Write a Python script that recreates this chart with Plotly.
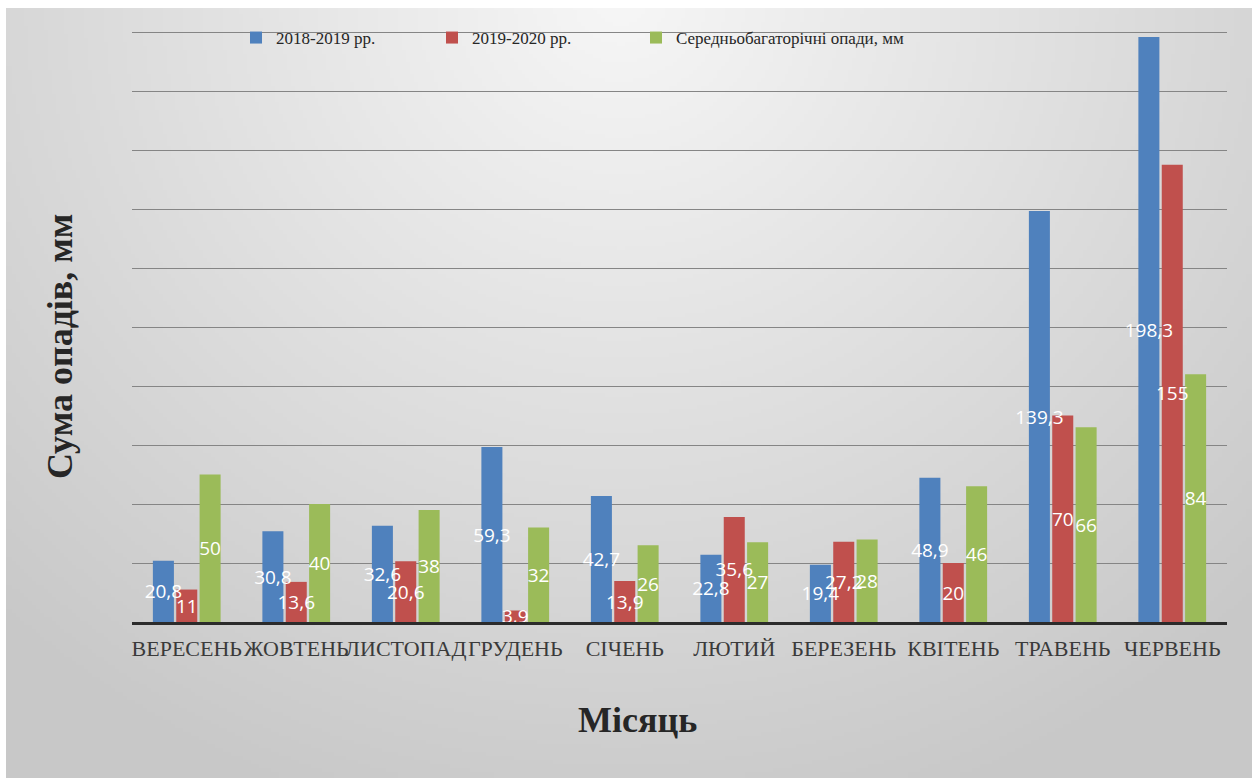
import base64, struct, zlib, math
import plotly.graph_objects as go

months = ["ВЕРЕСЕНЬ", "ЖОВТЕНЬ", "ЛИСТОПАД", "ГРУДЕНЬ", "СІЧЕНЬ",
          "ЛЮТИЙ", "БЕРЕЗЕНЬ", "КВІТЕНЬ", "ТРАВЕНЬ", "ЧЕРВЕНЬ"]
s2018 = [20.8, 30.8, 32.6, 59.3, 42.7, 22.8, 19.4, 48.9, 139.3, 198.3]
s2019 = [11, 13.6, 20.6, 3.9, 13.9, 35.6, 27.2, 20, 70, 155]
s_avg = [50, 40, 38, 32, 26, 27, 28, 46, 66, 84]
names = ["2018-2019 рр.", "2019-2020 рр.", "Середньобагаторічні опади, мм"]
colors = ["#4f81bd", "#c0504d", "#9bbb59"]

W, H = 1252, 778
Y0, Y200 = 622, 32          # pixel rows of value 0 and value 200
PPU = (Y0 - Y200) / 200.0   # pixels per mm
L, R, T = 132, 25, 23
B = H - Y0
PW, PH = W - L - R, H - T - B
YMAX = (Y0 - T) / PPU


def pxx(px):
    return (px - L) / PW


def pxy(py):
    return (Y0 - py) / PH


def fmt(v):
    return ("%g" % v).replace(".", ",")


def make_bg(w=313, h=193):
    rows = []
    for j in range(h):
        py = 8 + (j + 0.5) / h * (H - 8)
        row = bytearray([0])
        for i in range(w):
            px = 6 + (i + 0.5) / w * (W - 6)
            d = math.sqrt(((px - 620) / 900.0) ** 2 + (py / 850.0) ** 2)
            c = int(round(246 - 46 * min(1.0, d)))
            row += bytes([c, c, c])
        rows.append(bytes(row))
    raw = b"".join(rows)

    def chunk(tag, data):
        return (struct.pack(">I", len(data)) + tag + data +
                struct.pack(">I", zlib.crc32(tag + data) & 0xffffffff))

    png = b"\x89PNG\r\n\x1a\n"
    png += chunk(b"IHDR", struct.pack(">IIBBBBB", w, h, 8, 2, 0, 0, 0))
    png += chunk(b"IDAT", zlib.compress(raw, 9))
    png += chunk(b"IEND", b"")
    return "data:image/png;base64," + base64.b64encode(png).decode()


series = [s2018, s2019, s_avg]
groups = ["g1", "g2", "g3"]
legends = ["legend", "legend2", "legend3"]
fig = go.Figure()
# coloured bars
for name, vals, col, g, lg in zip(names, series, colors, groups, legends):
    fig.add_trace(go.Bar(
        x=months, y=vals, name=name, offsetgroup=g, legend=lg,
        marker=dict(color=col, line=dict(width=0)),
        hoverinfo="skip",
    ))
# value labels drawn on top of all bars
for vals, g in zip(series, groups):
    fig.add_trace(go.Bar(
        x=months, y=vals, offsetgroup=g, showlegend=False,
        marker=dict(color="rgba(0,0,0,0)", line=dict(width=0)),
        text=[fmt(v) for v in vals], textposition="inside",
        insidetextanchor="middle", textangle=0, constraintext="none",
        textfont=dict(family="Open Sans", size=19, color="white"),
        hoverinfo="skip",
    ))

leg_common = dict(orientation="h", xanchor="left", yanchor="top",
                  y=pxy(20), bgcolor="rgba(0,0,0,0)", itemwidth=30,
                  font=dict(family="Liberation Serif", size=17, color="#262626"))
leg_x = [236, 432, 636]

fig.update_layout(
    width=W, height=H,
    margin=dict(l=L, r=R, t=T, b=B, pad=0, autoexpand=False),
    paper_bgcolor="white", plot_bgcolor="rgba(0,0,0,0)",
    barmode="group", bargap=0.36, bargroupgap=0.1,
    uniformtext=dict(minsize=19, mode="show"),
    showlegend=True,
    legend=dict(leg_common, x=pxx(leg_x[0])),
    legend2=dict(leg_common, x=pxx(leg_x[1])),
    legend3=dict(leg_common, x=pxx(leg_x[2])),
    images=[dict(source=make_bg(), xref="paper", yref="paper",
                 x=pxx(6), y=pxy(8),
                 sizex=(W - 6) / PW, sizey=(H - 8) / PH,
                 xanchor="left", yanchor="top", sizing="stretch",
                 layer="below")],
    xaxis=dict(showline=True, linecolor="#2b2b2b", linewidth=3,
               ticks="", showgrid=False, ticklabelstandoff=5,
               tickangle=0, automargin=False,
               tickfont=dict(family="Liberation Serif", size=22, color="#3a3a3a")),
    yaxis=dict(range=[0, YMAX], dtick=20, tick0=0, showticklabels=False,
               showgrid=True, gridcolor="#858585", gridwidth=1,
               zeroline=False, showline=False, ticks="", automargin=False),
    annotations=[
        dict(text="<b>Сума опадів, мм</b>", xref="paper", yref="paper",
             x=pxx(60), y=pxy(347), textangle=-90,
             showarrow=False, xanchor="center", yanchor="middle",
             font=dict(family="Liberation Serif", size=36, color="#262626")),
        dict(text="<b>Місяць</b>", xref="paper", yref="paper",
             x=pxx(637), y=pxy(720),
             showarrow=False, xanchor="center", yanchor="middle",
             font=dict(family="Liberation Serif", size=36, color="#262626")),
    ],
)

fig.write_html("out.html")
